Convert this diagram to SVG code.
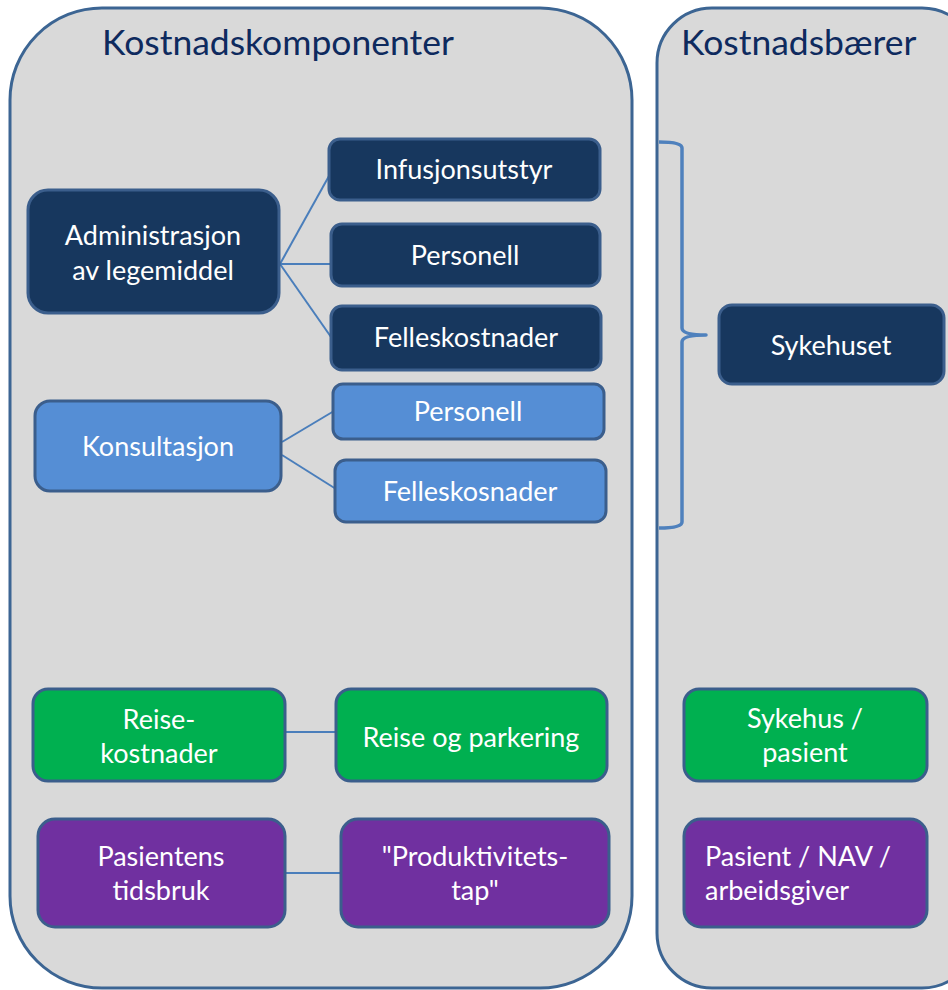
<svg xmlns="http://www.w3.org/2000/svg" width="948" height="990" viewBox="0 0 948 990">
<style>
.cont{fill:#D9D9D9;stroke:#3C6593;stroke-width:3}
.title{font-family:Lato,"Liberation Sans",sans-serif;font-size:35.5px;fill:#0E2A5E}
.n{stroke:#3B5E8C;stroke-width:3}
.dark{fill:#17375E}
.light{fill:#558ED5}
.green{fill:#00B050}
.purple{fill:#7030A0}
.t{font-family:Lato,"Liberation Sans",sans-serif;font-size:27px;fill:#FFFFFF;text-anchor:middle}
.tl{font-family:Lato,"Liberation Sans",sans-serif;font-size:27px;fill:#FFFFFF}
.c{stroke:#4A7EBB;stroke-width:2;fill:none}
.brace{stroke:#4F81BD;stroke-width:3.5;fill:none;stroke-linejoin:round}
</style>
<rect width="948" height="990" fill="#FFFFFF"/>
<g id="container-left">
<rect class="cont" x="10" y="8" width="622" height="980" rx="92" ry="92"/>
<text class="title" x="102" y="55">Kostnadskomponenter</text>
</g>
<g id="container-right">
<rect class="cont" x="657" y="8" width="320" height="980" rx="55" ry="55"/>
<text class="title" x="681" y="55">Kostnadsbærer</text>
</g>
<g id="connectors">
<line class="c" x1="280" y1="264" x2="329" y2="176"/>
<line class="c" x1="280" y1="264" x2="331" y2="264"/>
<line class="c" x1="280" y1="264" x2="331" y2="337"/>
<line class="c" x1="282" y1="442" x2="334" y2="411"/>
<line class="c" x1="282" y1="455" x2="336" y2="489"/>
<line class="c" x1="285" y1="732" x2="337" y2="732"/>
<line class="c" x1="285" y1="873" x2="341" y2="873"/>
<path class="brace" d="M659 142 Q682 142 682 148 L682 328 Q682 335 706 335 Q682 335 682 342 L682 522 Q682 528 659 528"/>
</g>
<g id="admin">
<rect class="n dark" x="28" y="190" width="251" height="123" rx="20"/>
<text class="t" x="153" y="245">Administrasjon</text>
<text class="t" x="153" y="280">av legemiddel</text>
</g>
<g id="infusjonsutstyr">
<rect class="n dark" x="329" y="139" width="271" height="61" rx="11"/>
<text class="t" x="464" y="179">Infusjonsutstyr</text>
</g>
<g id="personell-1">
<rect class="n dark" x="331" y="224" width="269" height="62" rx="11"/>
<text class="t" x="465" y="265">Personell</text>
</g>
<g id="felleskostnader">
<rect class="n dark" x="331" y="306" width="270" height="64" rx="11"/>
<text class="t" x="466" y="347">Felleskostnader</text>
</g>
<g id="konsultasjon">
<rect class="n light" x="35" y="401" width="246" height="90" rx="15"/>
<text class="t" x="158" y="456">Konsultasjon</text>
</g>
<g id="personell-2">
<rect class="n light" x="333" y="384" width="271" height="55" rx="10"/>
<text class="t" x="468" y="421">Personell</text>
</g>
<g id="felleskosnader">
<rect class="n light" x="335" y="460" width="271" height="62" rx="11"/>
<text class="t" x="470" y="501">Felleskosnader</text>
</g>
<g id="reisekostnader">
<rect class="n green" x="33" y="689" width="252" height="92" rx="15"/>
<text class="t" x="159" y="729">Reise-</text>
<text class="t" x="159" y="763">kostnader</text>
</g>
<g id="reise-parkering">
<rect class="n green" x="336" y="689" width="271" height="92" rx="15"/>
<text class="t" x="471" y="747">Reise og parkering</text>
</g>
<g id="pasientens-tidsbruk">
<rect class="n purple" x="38" y="819" width="247" height="108" rx="17"/>
<text class="t" x="161" y="866">Pasientens</text>
<text class="t" x="161" y="900">tidsbruk</text>
</g>
<g id="produktivitetstap">
<rect class="n purple" x="341" y="819" width="268" height="108" rx="17"/>
<text class="t" x="475" y="866">"Produktivitets-</text>
<text class="t" x="475" y="900">tap"</text>
</g>
<g id="sykehuset">
<rect class="n dark" x="719" y="305" width="225" height="79" rx="13"/>
<text class="t" x="831" y="355">Sykehuset</text>
</g>
<g id="sykehus-pasient">
<rect class="n green" x="684" y="689" width="243" height="92" rx="15"/>
<text class="t" x="805" y="728">Sykehus /</text>
<text class="t" x="805" y="762">pasient</text>
</g>
<g id="pasient-nav">
<rect class="n purple" x="684" y="819" width="243" height="108" rx="17"/>
<text class="tl" x="705" y="866">Pasient / NAV /</text>
<text class="tl" x="705" y="900">arbeidsgiver</text>
</g>
</svg>
